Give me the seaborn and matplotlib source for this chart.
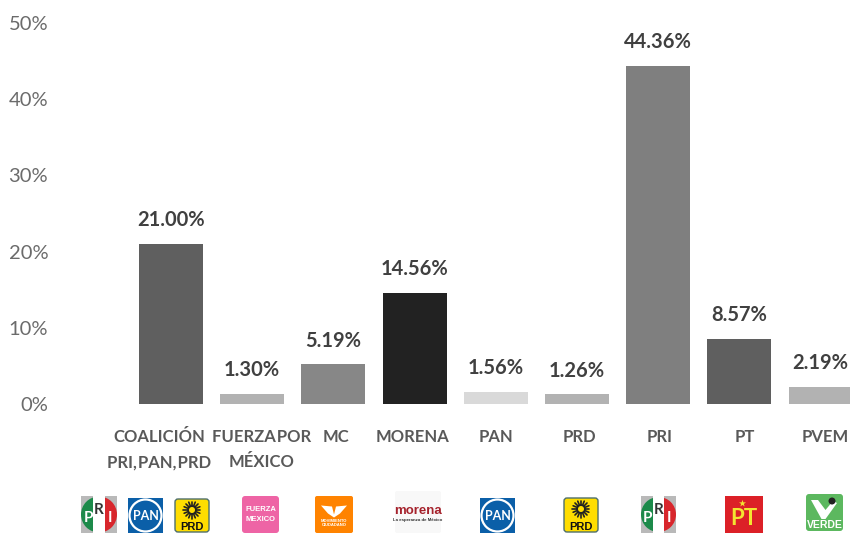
import numpy as np
import pandas as pd
import matplotlib
matplotlib.use("Agg")
import matplotlib.pyplot as plt
from matplotlib.patches import Rectangle, FancyBboxPatch, Circle, Wedge, Polygon
from matplotlib.transforms import ScaledTranslation
import seaborn as sns

# values
# the hair spaces keep the tight word gaps of the original labels
parties = ["COALICIÓN\nPRI,\u200aPAN,\u200aPRD", "FUERZA\u200aPOR\nMÉXICO", "MC", "MORENA", "PAN",
           "PRD", "PRI", "PT", "PVEM"]
votes = [21.00, 1.30, 5.19, 14.56, 1.56, 1.26, 44.36, 8.57, 2.19]
bar_colors = ["#5f5f5f", "#b2b2b2", "#878787", "#222222", "#d9d9d9",
              "#b2b2b2", "#7f7f7f", "#5f5f5f", "#b2b2b2"]
y_ticks = [0, 10, 20, 30, 40, 50]
# the labels are not centred under their bars in the original (pixels)
label_shift = [-12, 9, 3, -2, 0, 2, 1, 5, 5]

W, H = 850, 533
GRAY = "#595959"
NARROW = "Lato"


def logo_pri(ov, x0, y0, x1, y1):
    ov.add_patch(Rectangle((x0, y0), x1 - x0, y1 - y0, color="#b9b9b9", lw=0))
    w = (x1 - x0) / 3
    ym = (y0 + y1) / 2
    ov.add_patch(Wedge((x0 + 1.5 * w, ym), 1.5 * w, 90, 270, color="#1c8a4a", lw=0))
    ov.add_patch(Wedge((x0 + 1.5 * w, ym), 1.5 * w, -90, 90, color="#d8262c", lw=0))
    ov.add_patch(Rectangle((x0 + w, y0), w, y1 - y0, color="white", lw=0))
    ov.text(x0 + w * 0.6, ym + 3, "P", color="white", fontsize=11, fontweight="bold",
            ha="center", va="center", fontfamily=NARROW)
    ov.text(x0 + w * 1.5, ym - 5, "R", color="#333333", fontsize=11, fontweight="bold",
            ha="center", va="center", fontfamily=NARROW)
    ov.text(x0 + w * 2.4, ym + 3, "I", color="white", fontsize=11, fontweight="bold",
            ha="center", va="center", fontfamily=NARROW)


def logo_pan(ov, x0, y0, x1, y1):
    ov.add_patch(Rectangle((x0, y0), x1 - x0, y1 - y0, color="#0b5fa8", lw=0))
    cx, cy = (x0 + x1) / 2, (y0 + y1) / 2
    ov.add_patch(Circle((cx, cy), (x1 - x0) / 2 - 1.5, fc="#0b5fa8", ec="white", lw=1.6))
    ov.text(cx, cy, "PAN", color="white", fontsize=9, fontweight="bold", ha="center",
            va="center", fontfamily=NARROW)


def logo_prd(ov, x0, y0, x1, y1):
    ov.add_patch(FancyBboxPatch((x0 + 1, y0 + 1), x1 - x0 - 2, y1 - y0 - 2,
                                boxstyle="round,pad=0,rounding_size=3",
                                fc="#ffdd00", ec="#4d6f6b", lw=1))
    cx, cy = (x0 + x1) / 2, y0 + 12
    for a in np.linspace(0, 2 * np.pi, 16, endpoint=False):
        ov.plot([cx + 5 * np.cos(a), cx + 8.5 * np.cos(a)],
                [cy + 5 * np.sin(a), cy + 8.5 * np.sin(a)], color="#222222", lw=1.2)
    ov.add_patch(Circle((cx, cy), 4, fc="#ffdd00", ec="#222222", lw=1.4))
    ov.text(cx, y1 - 6.5, "PRD", color="#111111", fontsize=8, fontweight="bold", ha="center", va="center")


def logo_fuerza(ov, x0, y0, x1, y1):
    ov.add_patch(FancyBboxPatch((x0, y0), x1 - x0, y1 - y0, boxstyle="round,pad=0,rounding_size=3",
                                fc="#ee64a5", ec="none"))
    cx, cy = (x0 + x1) / 2, (y0 + y1) / 2
    ov.text(cx, cy - 5, "FUERZA", color="white", fontsize=5.5, fontweight="bold", ha="center", va="center")
    ov.text(cx, cy + 5, "MEXICO", color="white", fontsize=5.5, fontweight="bold", ha="center", va="center")


def logo_mc(ov, x0, y0, x1, y1):
    ov.add_patch(FancyBboxPatch((x0, y0), x1 - x0, y1 - y0, boxstyle="round,pad=0,rounding_size=2",
                                fc="#ff8300", ec="none"))
    cx, cy = (x0 + x1) / 2, (y0 + y1) / 2
    ov.add_patch(Polygon([(cx - 13, cy - 9), (cx - 2, cy - 8), (cx, cy), (cx + 2, cy - 8),
                          (cx + 13, cy - 9), (cx + 6, cy - 1), (cx, cy + 3), (cx - 6, cy - 1)],
                         fc="white", ec="none"))
    ov.text(cx, cy + 6, "MOVIMIENTO", color="white", fontsize=3, fontweight="bold", ha="center", va="center")
    ov.text(cx, cy + 10.5, "CIUDADANO", color="white", fontsize=3, fontweight="bold", ha="center", va="center")


def logo_morena(ov, x0, y0, x1, y1):
    ov.add_patch(FancyBboxPatch((x0, y0), x1 - x0, y1 - y0, boxstyle="round,pad=0,rounding_size=2",
                                fc="#f8f8f8", ec="none"))
    cx = (x0 + x1) / 2
    ov.text(cx, y0 + 20, "morena", color="#a5222c", fontsize=9.5, fontweight="bold", ha="center", va="center")
    ov.text(cx, y0 + 29.5, "La esperanza de México", color="#333333", fontsize=3.2, fontweight="bold",
            ha="center", va="center")


def logo_pt(ov, x0, y0, x1, y1):
    ov.add_patch(Rectangle((x0, y0), x1 - x0, y1 - y0, color="#dc2027", lw=0))
    cx, cy = (x0 + x1) / 2, (y0 + y1) / 2
    ov.text(cx, cy + 4, "PT", color="#f3e531", fontsize=16, fontweight="bold", ha="center", va="center",
            fontfamily=NARROW)
    ov.scatter([cx - 2], [y0 + 7], marker="*", s=28, color="#f3e531", linewidths=0)


def logo_verde(ov, x0, y0, x1, y1):
    ov.add_patch(FancyBboxPatch((x0, y0), x1 - x0, y1 - y0, boxstyle="round,pad=0,rounding_size=3",
                                fc="#5cb85f", ec="none"))
    cx = (x0 + x1) / 2
    ov.add_patch(Polygon([(x0 + 5, y0 + 6), (x0 + 12, y0 + 6), (cx + 1, y0 + 16), (x1 - 10, y0 + 7),
                          (x1 - 6, y0 + 9), (cx + 1, y0 + 25), (cx - 3, y0 + 25)], fc="white", ec="none"))
    ov.add_patch(Circle((x1 - 11, y0 + 7), 3.5, fc="#222222", ec="none"))
    ov.text(cx, y1 - 5.5, "VERDE", color="white", fontsize=7.5, fontweight="bold", ha="center", va="center")


sns.set_theme(style="white")
plt.rcParams["font.family"] = ["Liberation Sans", "DejaVu Sans"]

df = pd.DataFrame({"party": parties, "votes": votes})

fig = plt.figure(figsize=(W / 100, H / 100), dpi=100)

# axes placed so the first bar is centred at x=171 and bars are 81.2 px apart
ax = fig.add_axes([60 / W, (H - 404) / H, (W - 60) / W, 381 / H])
sns.barplot(data=df, x="party", y="votes", hue="party", palette=bar_colors, legend=False,
            width=64 / 81.2, saturation=1, edgecolor="none", linewidth=0, ax=ax)
ax.set_xlim((60 - 171) / 81.2, (850 - 171) / 81.2)
ax.set_ylim(0, 50)
ax.set_xlabel("")
ax.set_ylabel("")
ax.set_yticks(y_ticks)
ax.set_yticklabels([f"{t}%" for t in y_ticks], fontsize=14.5, color="#6b6b6b", fontfamily="Lato")
ax.tick_params(axis="y", length=0, pad=8.5)
ax.set_xticks(range(len(parties)))
ax.set_xticklabels(parties, fontsize=12, color=GRAY, fontfamily=[NARROW, "DejaVu Sans"],
                   fontweight="bold", linespacing=1.7)
ax.tick_params(axis="x", length=0, pad=18)
for lab, dx in zip(ax.get_xticklabels(), label_shift):
    lab.set_transform(lab.get_transform() + ScaledTranslation(dx / 100, 0, fig.dpi_scale_trans))
sns.despine(ax=ax, left=True, bottom=True)
ax.patch.set_alpha(0)

for i, v in enumerate(votes):
    ax.annotate(f"{v:.2f}%", (i, v), xytext=(0, 10), textcoords="offset points", ha="center", va="bottom",
                fontsize=14.5, fontweight="bold", color="#404040", fontfamily=NARROW,
                annotation_clip=False)

# overlay in pixel coordinates for the party logos
ov = fig.add_axes([0, 0, 1, 1])
ov.set_xlim(0, W)
ov.set_ylim(H, 0)
ov.axis("off")
ov.patch.set_alpha(0)

logo_pri(ov, 81, 496, 117, 533)
logo_pan(ov, 128, 498, 163, 533)
logo_prd(ov, 174, 498, 210, 533)
logo_fuerza(ov, 242, 496, 279, 533)
logo_mc(ov, 315, 496, 353, 533)
logo_morena(ov, 395, 491, 441, 533)
logo_pan(ov, 480, 498, 515, 533)
logo_prd(ov, 563, 497, 599, 533)
logo_pri(ov, 641, 496, 676, 533)
logo_pt(ov, 725, 496, 763, 533)
logo_verde(ov, 806, 494, 843, 531)

fig.savefig("out.png", dpi=100, facecolor="white")
